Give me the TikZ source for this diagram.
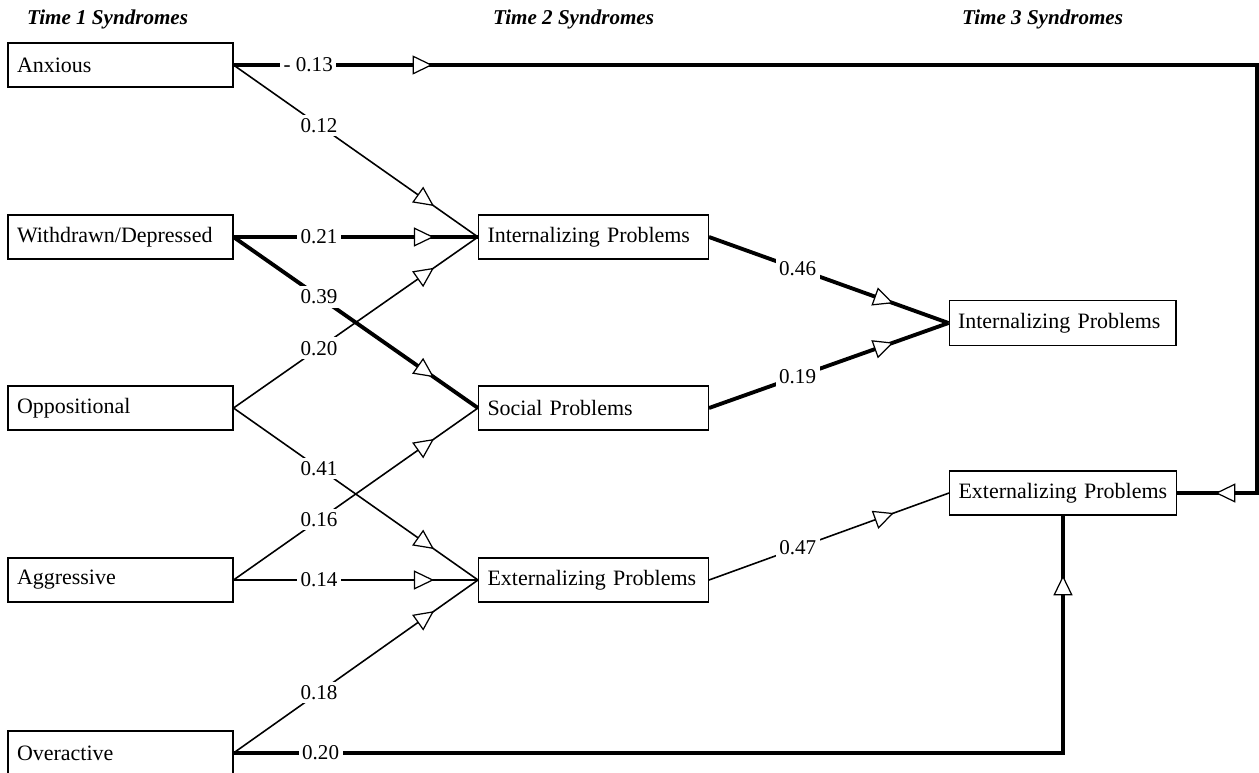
\documentclass[tikz,border=0pt]{standalone}
\usepackage{fontspec}
\setmainfont{Liberation Serif}
\usetikzlibrary{arrows.meta,decorations.markings}

\newcommand{\hollowtip}{\arrow{Triangle[fill=white,length=0.4cm,width=0.38cm,line width=0.7pt]}}

\begin{document}
\begin{tikzpicture}[x=0.02cm, y=-0.02cm,
        every node/.style={font=\fontsize{12.5}{15}\selectfont},
        syn/.style={draw, line width=0.6pt, minimum height=0.88cm, text width=#1, inner xsep=0.18cm, align=left},
        hdr/.style={anchor=west, font=\fontsize{12}{14}\selectfont\bfseries\itshape},
        lbl/.style={fill=white, inner sep=2pt, font=\fontsize{12}{14}\selectfont},
        weak/.style={line width=0.9pt},
        strong/.style={line width=2.2pt},
        mid arrow/.style={postaction={decorate, decoration={markings, mark=at position #1 with {\hollowtip}}}}]
        \clip (0,0) rectangle (1259,772);

        % Column headings
        \node[hdr] (h1) at (21,19) {Time 1 Syndromes};
        \node[hdr] (h2) at (487,19) {Time 2 Syndromes};
        \node[hdr] (h3) at (956,19) {Time 3 Syndromes};

        % Time 1 syndromes
        \node[syn=4.14cm] (anx) at (120.5,65) {Anxious};
        \node[syn=4.14cm] (wd) at (120.5,237) {Withdrawn/Depressed};
        \node[syn=4.14cm] (opp) at (120.5,408) {Oppositional};
        \node[syn=4.14cm] (agg) at (120.5,580) {Aggressive};
        \node[syn=4.14cm] (ovr) at (120.5,753) {Overactive};

        % Time 2 syndromes
        \node[syn=4.24cm] (int2) at (593.5,237) {Internalizing Problems};
        \node[syn=4.24cm] (soc2) at (593.5,408) {Social Problems};
        \node[syn=4.24cm] (ext2) at (593.5,580) {Externalizing Problems};

        % Time 3 syndromes
        \node[syn=4.18cm, minimum height=0.9cm] (int3) at (1062.5,323) {Internalizing Problems};
        \node[syn=4.18cm] (ext3) at (1063,493) {Externalizing Problems};

        % Paths from time 1 to time 2
        \foreach \src/\dst/\val/\wt in {anx/int2/0.12/weak, wd/int2/0.21/strong, wd/soc2/0.39/strong,
                opp/int2/0.20/weak, opp/ext2/0.41/weak, agg/soc2/0.16/weak, agg/ext2/0.14/weak, ovr/ext2/0.18/weak} {
            \draw[\wt, mid arrow=0.82] (\src.east) -- node[lbl, pos=0.35] {\val} (\dst.west);
        }

        % Paths from time 2 to time 3
        \foreach \src/\dst/\val/\wt in {int2/int3/0.46/strong, soc2/int3/0.19/strong, ext2/ext3/0.47/weak} {
            \draw[\wt, mid arrow=0.77] (\src.east) -- node[lbl, pos=0.37] {\val} (\dst.west);
        }

        % Direct paths from time 1 to time 3
        \coordinate (topR) at (1257,65);
        \coordinate (botR) at (1257,493);
        \draw[strong, mid arrow=0.13, mid arrow=0.975] (anx.east) -- node[lbl, pos=0.073] {- 0.13} (topR) -- (botR) -- (ext3.east);
        \draw[strong, mid arrow=0.944] (ovr.east) -- node[lbl, pos=0.105] {0.20} (ovr.east -| ext3.south) -- (ext3.south);
    \end{tikzpicture}
\end{document}
